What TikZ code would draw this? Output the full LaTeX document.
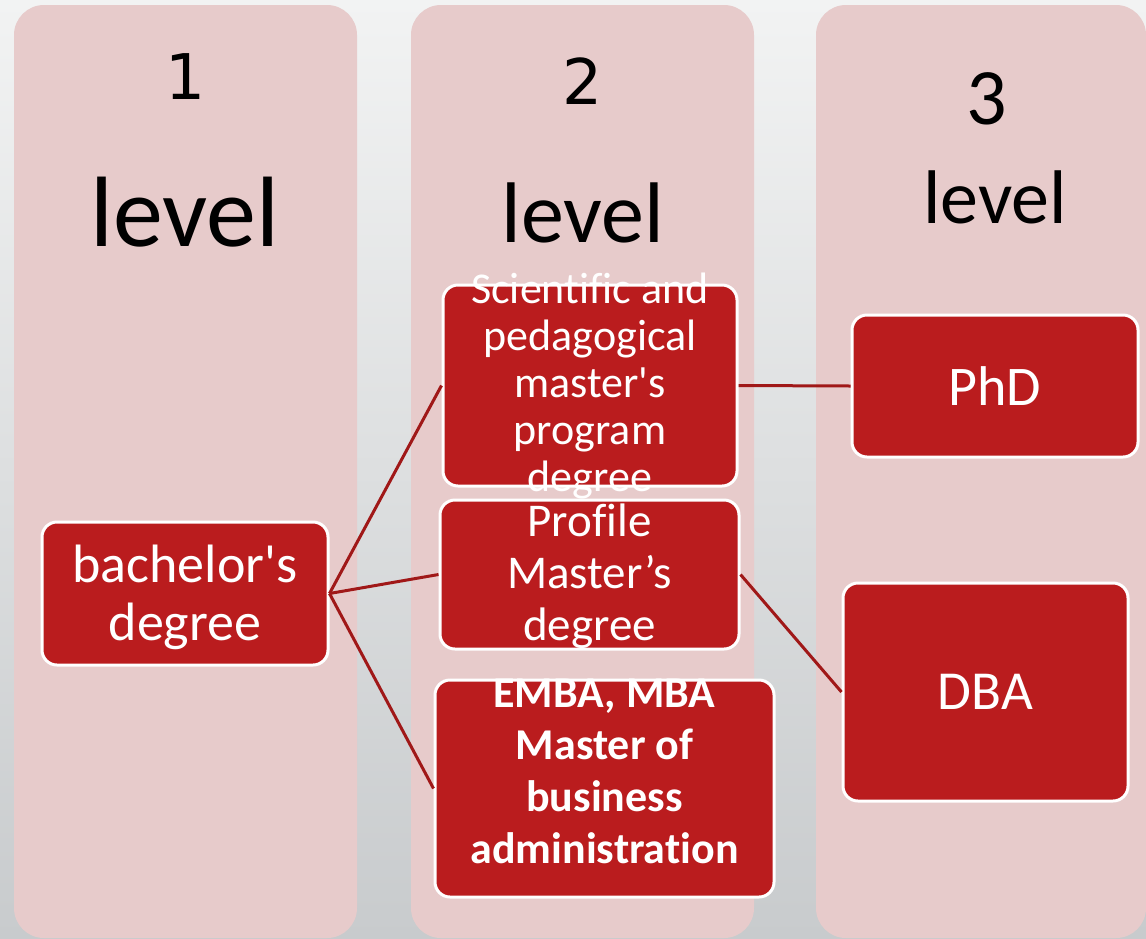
\documentclass[tikz,border=0pt]{standalone}
\usepackage{fontspec}
\setmainfont[Ligatures={NoCommon}]{Carlito}
\newfontfamily\numfont{DejaVu Sans}
\definecolor{colpink}{HTML}{E7CBCB}
\definecolor{boxred}{HTML}{BA1C1E}
\definecolor{linkred}{HTML}{A01818}
\definecolor{bgtop}{HTML}{F2F3F3}
\definecolor{bgbottom}{HTML}{C8CBCD}
\begin{document}
\begin{tikzpicture}[x=1pt,y=-1pt]
      \tikzstyle{column}=[fill=colpink,rounded corners=30pt]
      \tikzstyle{redbox}=[rectangle,rounded corners=15pt,fill=boxred,draw=white,line width=3pt,inner sep=0pt]
      \tikzstyle{boxtext}=[text=white,align=center,inner sep=0pt]
      \tikzstyle{head}=[anchor=base,inner sep=0pt]
      \tikzstyle{link}=[draw=linkred,line width=3pt]
      \useasboundingbox (0,0) rectangle (1146,938);
      \shade[top color=bgtop,bottom color=bgbottom] (0,0) rectangle (1146,938);
      \fill[column] (14,5) rectangle (357,938);
      \fill[column] (411,5) rectangle (754,938);
      \fill[column] (816,5) rectangle (1146,938);
      % column headings
      \node[head,font=\fontsize{63}{63}\numfont] (num_1) at (186,99) {1};
      \node[head,font=\fontsize{100}{100}\selectfont] (lev_1) at (185,246) {level};
      \node[head,font=\fontsize{63}{63}\numfont] (num_2) at (583,104) {2};
      \node[head,font=\fontsize{86}{86}\selectfont] (lev_2) at (583,242) {level};
      \node[head,font=\fontsize{80}{80}\selectfont] (num_3) at (987,124) {3};
      \node[head,font=\fontsize{76}{76}\selectfont] (lev_3) at (995,223) {level};
      % boxes
      \node[redbox,minimum width=286,minimum height=143] (bach) at (185,593.5) {};
      \node[redbox,minimum width=294,minimum height=201] (sci) at (590,385.5) {};
      \node[redbox,minimum width=299,minimum height=149] (prof) at (589.5,574.5) {};
      \node[redbox,minimum width=339,minimum height=217] (mba) at (604.5,788.5) {};
      \node[redbox,minimum width=286,minimum height=142] (phd) at (995,386) {};
      \node[redbox,minimum width=285,minimum height=218] (dba) at (985.5,692) {};
      % box texts
      \node[boxtext,font=\fontsize{54}{58}\selectfont] (bach_t) at (185,597) {bachelor\textquotesingle s\\degree};
      \node[boxtext,font=\fontsize{44}{47}\selectfont] (sci_t) at (sci) {Scientific and\\pedagogical\\master\textquotesingle s\\program\\degree};
      \node[boxtext,font=\fontsize{47}{52}\selectfont] (prof_t) at (589.5,576) {Profile\\Master’s\\degree};
      \node[boxtext,font=\fontsize{44}{52}\selectfont\bfseries] (mba_t) at (604.5,771) {EMBA, MBA\\Master of\\business\\administration};
      \node[boxtext,font=\fontsize{56}{56}\selectfont] (phd_t) at (phd) {PhD};
      \node[boxtext,font=\fontsize{55}{55}\selectfont] (dba_t) at (dba) {DBA};
      % connectors
      \draw[link] (bach.east) -- (sci.west);
      \draw[link] (bach.east) -- (prof.west);
      \draw[link] (bach.east) -- (mba.west);
      \draw[link] (sci.east) -- (phd.west);
      \draw[link] (prof.east) -- (dba.west);
\end{tikzpicture}
\end{document}
